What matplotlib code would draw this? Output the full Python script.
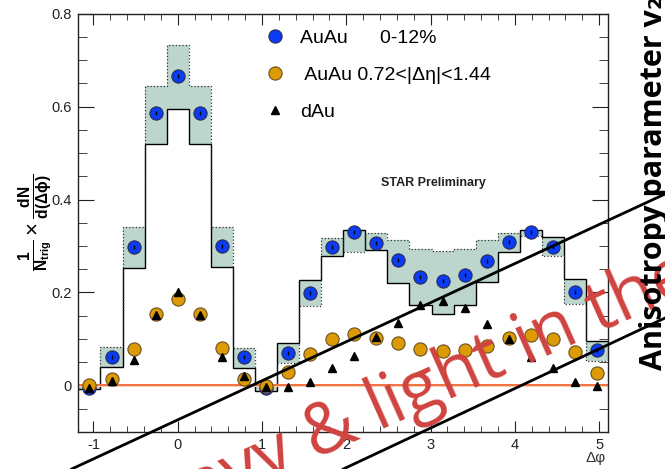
import matplotlib
matplotlib.use('Agg')
import matplotlib.pyplot as plt
import numpy as np
from matplotlib.ticker import MultipleLocator, FuncFormatter

plt.rcParams['font.family'] = ['Liberation Sans', 'DejaVu Sans']
plt.rcParams['axes.unicode_minus'] = False
plt.rcParams['mathtext.fontset'] = 'custom'
plt.rcParams['mathtext.rm'] = 'Liberation Sans'
plt.rcParams['mathtext.bf'] = 'Liberation Sans:bold'
plt.rcParams['mathtext.it'] = 'Liberation Sans:italic'

# bins in units of pi/12
bins = np.arange(-4, 20)
dphi = bins * np.pi / 12
edges = (np.arange(-4, 21) - 0.5) * np.pi / 12

auau_central = [-0.005, 0.062, 0.298, 0.587, 0.666, 0.587, 0.300, 0.062, -0.006, 0.069,
                0.198, 0.298, 0.331, 0.307, 0.270, 0.234, 0.225, 0.238, 0.267, 0.308,
                0.331, 0.298, 0.200, 0.076]
# systematic band: solid edge and dotted edge
band_solid = [-0.008, 0.039, 0.252, 0.520, 0.595, 0.520, 0.254, 0.038, -0.012, 0.092,
              0.227, 0.278, 0.334, 0.291, 0.221, 0.173, 0.154, 0.173, 0.223, 0.288,
              0.334, 0.319, 0.230, 0.096]
band_dotted = [0.002, 0.082, 0.341, 0.645, 0.732, 0.645, 0.341, 0.080, 0.000, 0.048,
               0.171, 0.318, 0.288, 0.329, 0.313, 0.293, 0.290, 0.293, 0.313, 0.329,
               0.321, 0.278, 0.175, 0.053]
auau_eta = [0.001, 0.013, 0.078, 0.154, 0.185, 0.154, 0.080, 0.013, -0.001, 0.028,
            0.068, 0.100, 0.110, 0.103, 0.092, 0.078, 0.074, 0.076, 0.085, 0.103,
            0.109, 0.099, 0.071, 0.026]
dau = [-0.006, 0.010, 0.055, 0.152, 0.202, 0.152, 0.061, 0.020, -0.003, -0.003,
       0.008, 0.037, 0.063, 0.105, 0.135, 0.173, 0.182, 0.167, 0.132, 0.101,
       0.061, 0.037, 0.008, -0.001]

fig = plt.figure(figsize=(6.65, 4.69), dpi=100)
ax = fig.add_axes([0.1179, 0.0789, 0.7965, 0.8923])

ax.stairs(band_dotted, edges, baseline=band_solid, fill=True, color='#bdd6cd', zorder=1)
ax.stairs(band_solid, edges, baseline=None, color='black', lw=1.0, zorder=2)
ax.stairs(band_dotted, edges, baseline=None, color='#333333', lw=0.9, ls=':', zorder=2)

ax.axhspan(-0.004, 0.004, color='#f9cdb5', lw=0, zorder=2)
ax.axhline(0, color='#f05a24', lw=1.1, zorder=2.5)

ax.plot(dphi, auau_central, 'o', color='#0a3cf5', mec='#2a2a55', mew=0.8, ms=9.5, zorder=3,
        label='AuAu      0-12%')
ax.plot(dphi, auau_central, '|', color='black', ms=3.5, mew=1.0, zorder=3.2)
ax.plot(dphi, auau_eta, 'o', color='#dc9a04', mec='#6a5020', mew=0.8, ms=9.5, zorder=4,
        label=' AuAu 0.72<|\u0394\u03b7|<1.44')
ax.plot(dphi, dau, '^', color='black', ms=6, zorder=5, label='dAu')

ax.set_xlim(edges[0], edges[-1])
ax.set_ylim(-0.1, 0.8)
ax.xaxis.set_major_locator(MultipleLocator(1))
ax.xaxis.set_minor_locator(MultipleLocator(0.2))
ax.yaxis.set_major_locator(MultipleLocator(0.2))
ax.yaxis.set_minor_locator(MultipleLocator(0.05))
ax.yaxis.set_major_formatter(FuncFormatter(lambda v, p: f'{round(v, 2):g}'))
ax.xaxis.set_major_formatter(FuncFormatter(lambda v, p: f'{round(v, 2):g}'))
ax.tick_params(which='both', direction='in', top=True, right=True, colors='#222222',
               labelsize=10.5)
ax.tick_params(axis='x', which='major', length=8, pad=4)
ax.tick_params(axis='x', which='minor', length=4.5)
ax.tick_params(axis='y', which='major', length=11.5, pad=5)
ax.tick_params(axis='y', which='minor', length=6.5)
for s in ax.spines.values():
    s.set_color('#222222')
    s.set_linewidth(1.0)

ax.set_ylabel(r'$\mathbf{\frac{1}{N_{trig}}}\times\mathbf{\frac{dN}{d(\Delta\phi)}}$',
              fontsize=16, labelpad=-3)
ax.text(0.977, -0.062, '\u0394\u03c6', transform=ax.transAxes, fontsize=11, color='#333333',
        ha='center', va='center')
ax.text(0.67, 0.595, 'STAR Preliminary', transform=ax.transAxes, fontsize=9,
        fontweight='bold', family=['Liberation Sans Narrow', 'Liberation Sans'],
        color='#222222', ha='center', va='center')

leg = ax.legend(loc='upper left', bbox_to_anchor=(0.317, 1.005), frameon=False,
                fontsize=14, handletextpad=0.66, labelspacing=1.0, handlelength=1.2)

# overlay
fig.add_artist(plt.Line2D([71.7 / 665, 1.0], [0.0, 1 - 194 / 469], color='black', lw=2))
fig.add_artist(plt.Line2D([343.3 / 665, 1.0], [0.0, 1 - 318 / 469], color='black', lw=2))
fig.text(402 / 665, 1 - 400 / 469, 'heavy & light in the', fontsize=51, color='#d0433f',
         family='Open Sans', rotation=24, rotation_mode='anchor', ha='center', va='center')
fig.text(662 / 665, 1 - 370 / 469, 'Anisotropy parameter v\u2082', fontsize=22,
         fontweight='bold', family=['Open Sans', 'DejaVu Sans'], rotation=90,
         rotation_mode='anchor', ha='left', va='baseline')

fig.savefig('out.png', dpi=100)
